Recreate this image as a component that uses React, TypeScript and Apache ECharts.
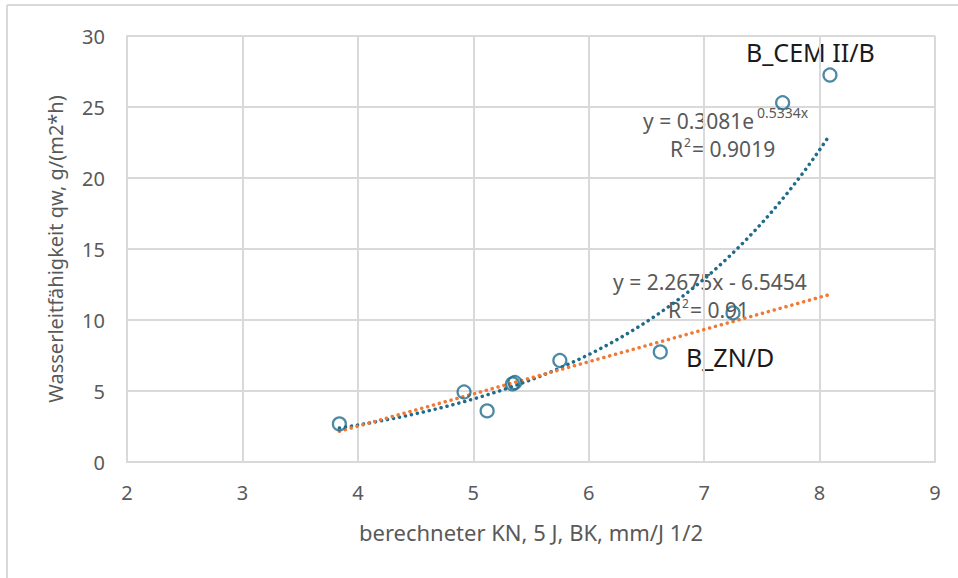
import React, { useEffect, useRef } from "react";
import * as echarts from "echarts";

// Measured points: x = berechneter KN (mm/J 1/2), y = Wasserleitfähigkeit qw
const pointX = [3.84, 4.92, 5.12, 5.34, 5.36, 5.75, 6.62, 7.25, 7.68, 8.09];
const pointY = [2.68, 4.93, 3.6, 5.5, 5.6, 7.15, 7.75, 10.5, 25.3, 27.25];

// Trendline coefficients as displayed on the chart
const expA = 0.3081;
const expB = 0.5334;
const linM = 2.2675;
const linC = -6.5454;
const trendFrom = 3.84;
const trendTo = 8.09;

const xTicks = [2, 3, 4, 5, 6, 7, 8, 9];
const yTicks = [0, 5, 10, 15, 20, 25, 30];

const FONT = "Noto Sans";
const GRAY = "#595959";
const GRID = "#d9d9d9";
const BLUE = "#1f6b8c";
const ORANGE = "#f07a35";

export default function App() {
  const ref = useRef<HTMLDivElement>(null);
  useEffect(() => {
    if (!ref.current) return;
    const chart = echarts.init(ref.current, undefined, { renderer: "svg" });

    const scatter = pointX.map((x, i) => [x, pointY[i]]);
    const expLine: number[][] = [];
    const steps = 60;
    for (let i = 0; i <= steps; i++) {
      const x = trendFrom + ((trendTo - trendFrom) * i) / steps;
      expLine.push([x, expA * Math.exp(expB * x)]);
    }
    const linLine = [
      [trendFrom, linM * trendFrom + linC],
      [trendTo, linM * trendTo + linC],
    ];

    const eq = (x: number, y: number, text: string, size = 21) => ({
      type: "text",
      x,
      y,
      style: { text, fill: GRAY, fontSize: size, fontFamily: FONT, verticalAlign: "middle" },
    });

    chart.setOption({
      animation: false,
      backgroundColor: "#ffffff",
      grid: { left: 127, top: 36, right: 23, bottom: 116 },
      xAxis: {
        type: "value",
        min: xTicks[0],
        max: xTicks[xTicks.length - 1],
        interval: 1,
        name: "berechneter KN, 5 J, BK, mm/J 1/2",
        nameLocation: "middle",
        nameGap: 59,
        nameTextStyle: { color: GRAY, fontSize: 22, fontFamily: FONT },
        axisLine: { show: true, lineStyle: { color: GRID, width: 2 } },
        axisTick: { show: false },
        axisLabel: { color: GRAY, fontSize: 20, fontFamily: FONT, margin: 20 },
        splitLine: { show: true, lineStyle: { color: GRID, width: 2 } },
      },
      yAxis: {
        type: "value",
        min: yTicks[0],
        max: yTicks[yTicks.length - 1],
        interval: 5,
        name: "Wasserleitfähigkeit qw, g/(m2*h)",
        nameLocation: "middle",
        nameGap: 62,
        nameTextStyle: { color: GRAY, fontSize: 20, fontFamily: FONT },
        axisLine: { show: true, lineStyle: { color: GRID, width: 2 } },
        axisTick: { show: false },
        axisLabel: { color: GRAY, fontSize: 20, fontFamily: FONT, margin: 22 },
        splitLine: { show: true, lineStyle: { color: GRID, width: 2 } },
      },
      series: [
        {
          type: "line",
          data: expLine,
          showSymbol: false,
          symbol: "none",
          lineStyle: { color: BLUE, width: 3.5, type: [0.1, 6], cap: "round" },
          z: 2,
        },
        {
          type: "line",
          data: linLine,
          showSymbol: false,
          symbol: "none",
          lineStyle: { color: ORANGE, width: 3.5, type: [0.1, 6], cap: "round" },
          z: 2,
        },
        {
          type: "scatter",
          data: scatter,
          symbol: "circle",
          symbolSize: 13,
          itemStyle: { color: "rgba(255,255,255,0)", borderColor: BLUE, borderWidth: 2.2 },
          z: 3,
        },
      ],
      graphic: [
        { type: "line", shape: { x1: 7, y1: 5, x2: 958, y2: 5 }, style: { stroke: GRID, lineWidth: 2 } },
        { type: "line", shape: { x1: 7, y1: 5, x2: 7, y2: 578 }, style: { stroke: GRID, lineWidth: 2 } },
        { type: "text", x: 746, y: 52, style: { text: "B_CEM II/B", fill: "#1a1a1a", fontSize: 25, fontFamily: FONT, verticalAlign: "middle" } },
        { type: "text", x: 686, y: 357, style: { text: "B_ZN/D", fill: "#1a1a1a", fontSize: 25, fontFamily: FONT, verticalAlign: "middle" } },
        eq(643, 121, "y = 0.3081e"),
        eq(757, 112, "0.5334x", 14),
        eq(670, 149, "R"),
        eq(684, 142, "2", 12),
        eq(692, 149, "= 0.9019"),
        eq(613, 282, "y = 2.2675x - 6.5454"),
        eq(668, 310, "R"),
        eq(682, 303, "2", 12),
        eq(690, 310, "= 0.91"),
      ],
    });
    return () => chart.dispose();
  }, []);
  return (
    <div
      ref={ref}
      style={{ position: "fixed", left: 0, top: 0, width: 958, height: 578 }}
    />
  );
}
